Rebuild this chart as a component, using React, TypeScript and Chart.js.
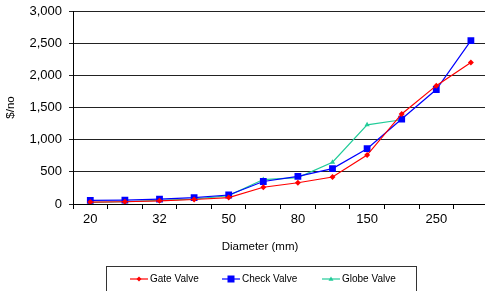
import React, { useEffect, useRef } from "react";
import { Chart, registerables } from "chart.js";

Chart.register(...registerables);

const categories = ["20", "25", "32", "40", "50", "65", "80", "100", "150", "200", "250", "300"];
const gateValve = [30, 35, 50, 70, 100, 260, 330, 420, 760, 1400, 1840, 2200];
const checkValve = [55, 60, 75, 100, 140, 350, 430, 550, 860, 1320, 1780, 2540];
const globeValve = [25, 35, 55, 75, 130, 380, 410, 650, 1230, 1310, null, null];
const yTicks = [0, 500, 1000, 1500, 2000, 2500, 3000];

const FONT = "'Liberation Sans', Arial, sans-serif";
const RED = "#ff0000";
const BLUE = "#0000ff";
const TEAL = "#22cc99";

const series = [
  { label: "Gate Valve", data: gateValve, color: RED, style: "rectRot", r: 3 },
  { label: "Check Valve", data: checkValve, color: BLUE, style: "rect", r: 4.8 },
  { label: "Globe Valve", data: globeValve, color: TEAL, style: "triangle", r: 3 },
];

function drawMarker(ctx: CanvasRenderingContext2D, style: string, x: number, y: number, r: number) {
  ctx.beginPath();
  if (style === "rect") {
    ctx.rect(x - r, y - r, 2 * r, 2 * r);
  } else if (style === "rectRot") {
    ctx.moveTo(x, y - r);
    ctx.lineTo(x + r, y);
    ctx.lineTo(x, y + r);
    ctx.lineTo(x - r, y);
    ctx.closePath();
  } else {
    ctx.moveTo(x, y - r);
    ctx.lineTo(x + r, y + r * 0.7);
    ctx.lineTo(x - r, y + r * 0.7);
    ctx.closePath();
  }
  ctx.fill();
}

const customPlugin = {
  id: "customDecor",
  afterDraw(chart: any) {
    const ctx = chart.ctx;
    ctx.save();
    ctx.fillStyle = "#000";
    ctx.font = `11.5px ${FONT}`;
    ctx.textAlign = "center";
    ctx.textBaseline = "middle";
    ctx.fillText("Diameter (mm)", 260, 247);
    ctx.strokeStyle = "#333";
    ctx.lineWidth = 1;
    ctx.strokeRect(106.5, 266.5, 310, 40);
    const items = [
      { x0: 130, x1: 148, tx: 150 },
      { x0: 222, x1: 240, tx: 242 },
      { x0: 322, x1: 340, tx: 342 },
    ];
    const y = 279;
    series.forEach((s, i) => {
      const it = items[i];
      ctx.strokeStyle = s.color;
      ctx.lineWidth = 1.2;
      ctx.beginPath();
      ctx.moveTo(it.x0, y);
      ctx.lineTo(it.x1, y);
      ctx.stroke();
      ctx.fillStyle = s.color;
      drawMarker(ctx, s.style, (it.x0 + it.x1) / 2, y, s.style === "rect" ? 3.5 : 2.5);
      ctx.fillStyle = "#000";
      ctx.font = `10px ${FONT}`;
      ctx.textAlign = "left";
      ctx.textBaseline = "middle";
      ctx.fillText(s.label, it.tx, y);
    });
    ctx.restore();
  },
};

export default function App() {
  const ref = useRef<HTMLCanvasElement>(null);
  useEffect(() => {
    if (!ref.current) return;
    const chart = new Chart(ref.current, {
      type: "line",
      data: {
        labels: categories,
        datasets: series.map((s) => ({
          label: s.label,
          data: s.data,
          borderColor: s.color,
          backgroundColor: s.color,
          borderWidth: 1.2,
          pointStyle: s.style as any,
          pointRadius: s.r,
          pointBorderWidth: 0,
          pointBackgroundColor: s.color,
          tension: 0,
          spanGaps: false,
        })),
      },
      options: {
        responsive: false,
        animation: false,
        devicePixelRatio: 1,
        layout: { padding: { top: 11, right: 0, bottom: 0, left: 0 } },
        plugins: { legend: { display: false }, tooltip: { enabled: false } },
        scales: {
          x: {
            type: "category",
            offset: true,
            afterFit: (s: any) => {
              s.height = 87;
              s.paddingRight = 0;
            },
            grid: {
              offset: true,
              drawOnChartArea: false,
              drawTicks: true,
              tickLength: 5,
              color: "#000",
            },
            border: { display: true, color: "#000", width: 1 },
            ticks: {
              autoSkip: false,
              maxRotation: 0,
              minRotation: 0,
              padding: 3,
              color: "#000",
              font: { family: FONT, size: 13 },
              callback: (_v: any, i: number) => (i % 2 === 0 ? categories[i] : ""),
            },
          },
          y: {
            min: 0,
            max: 3000,
            afterFit: (s: any) => {
              s.width = 73;
              s.paddingTop = 0;
              s.paddingBottom = 0;
            },
            afterBuildTicks: (s: any) => {
              s.ticks = yTicks.map((v) => ({ value: v }));
            },
            grid: {
              color: "#222",
              lineWidth: 1,
              tickLength: 4,
            },
            border: { display: true, color: "#000", width: 1 },
            ticks: {
              padding: 7,
              color: "#000",
              font: { family: FONT, size: 13 },
              callback: (v: any) => Number(v).toLocaleString("en-US"),
            },
            title: {
              display: true,
              text: "$/no",
              color: "#000",
              font: { family: FONT, size: 11.5 },
              padding: { top: 4, bottom: 0 },
            },
          },
        },
      },
      plugins: [customPlugin],
    });
    return () => chart.destroy();
  }, []);
  return (
    <div style={{ position: "fixed", left: 0, top: 0, width: 485, height: 291, overflow: "hidden", background: "#fff" }}>
      <canvas ref={ref} width={493} height={291} style={{ width: 493, height: 291, display: "block" }} />
    </div>
  );
}
